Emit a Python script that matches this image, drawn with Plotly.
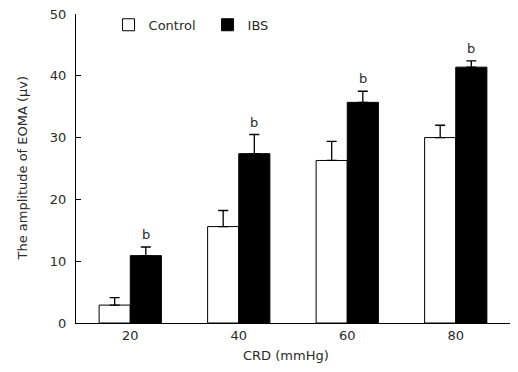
import plotly.graph_objects as go

categories = ["20", "40", "60", "80"]
control_vals = [2.9, 15.6, 26.3, 30.0]
control_err = [1.2, 2.6, 3.1, 2.0]
ibs_vals = [10.9, 27.4, 35.7, 41.4]
ibs_err = [1.4, 3.1, 1.8, 1.0]
sig_labels = ["b", "b", "b", "b"]

FONT = "DejaVu Sans, Verdana, sans-serif"
TXT = "#2a2a2a"
BARGAP = 0.426
bar_w = (1 - BARGAP) / 2

fig = go.Figure()
fig.add_trace(go.Bar(
    name="Control", x=categories, y=control_vals,
    marker=dict(color="white", line=dict(color="black", width=1)),
    error_y=dict(type="data", array=control_err, symmetric=False, arrayminus=[0]*4,
                 color="black", thickness=1.3, width=5),
))
fig.add_trace(go.Bar(
    name="IBS", x=categories, y=ibs_vals,
    marker=dict(color="black", line=dict(color="black", width=1)),
    error_y=dict(type="data", array=ibs_err, symmetric=False, arrayminus=[0]*4,
                 color="black", thickness=1.3, width=5),
))

for i, (v, e, s) in enumerate(zip(ibs_vals, ibs_err, sig_labels)):
    fig.add_annotation(x=i + bar_w / 2, y=v + e, text=s, showarrow=False,
                       yanchor="bottom", yshift=3,
                       font=dict(family=FONT, size=13, color=TXT))

# axis titles
fig.add_annotation(text="CRD (mmHg)", xref="paper", yref="paper", x=0.485, y=0,
                   yshift=-23, xanchor="center", yanchor="top", showarrow=False,
                   font=dict(family=FONT, size=13, color=TXT))
fig.add_annotation(text="The amplitude of EOMA (μv)", xref="paper", yref="paper",
                   x=0, xshift=-54, y=0.5, xanchor="center", yanchor="middle",
                   textangle=-90, showarrow=False,
                   font=dict(family=FONT, size=13, color=TXT))

fig.update_layout(
    width=518, height=372,
    margin=dict(l=76, r=8, t=14, b=49, autoexpand=False),
    paper_bgcolor="white", plot_bgcolor="white",
    barmode="group", bargap=BARGAP, bargroupgap=0,
    font=dict(family=FONT, size=13, color=TXT),
    showlegend=True,
    legend=dict(orientation="h", x=0.075, y=0.965, xanchor="left", yanchor="middle",
                bgcolor="rgba(0,0,0,0)", font=dict(family=FONT, size=13, color=TXT),
                entrywidth=54, entrywidthmode="pixels", itemclick=False),
    xaxis=dict(
        type="category", showline=True, linecolor="black", linewidth=1.3,
        ticks="", showgrid=False, zeroline=False, automargin=False,
        range=[-0.5, 3.5],
        tickfont=dict(family=FONT, size=13, color=TXT),
    ),
    yaxis=dict(
        range=[0, 50], tickvals=[0, 10, 20, 30, 40, 50],
        showline=True, linecolor="black", linewidth=1.3, automargin=False,
        ticks="inside", ticklen=5, tickwidth=1.3, tickcolor="black",
        ticklabelstandoff=6,
        showgrid=False, zeroline=False,
        tickfont=dict(family=FONT, size=13, color=TXT),
    ),
)

fig.write_html("out.html", config={"displayModeBar": False},
               post_script="document.body.style.margin='0';document.body.style.overflow='hidden';")
